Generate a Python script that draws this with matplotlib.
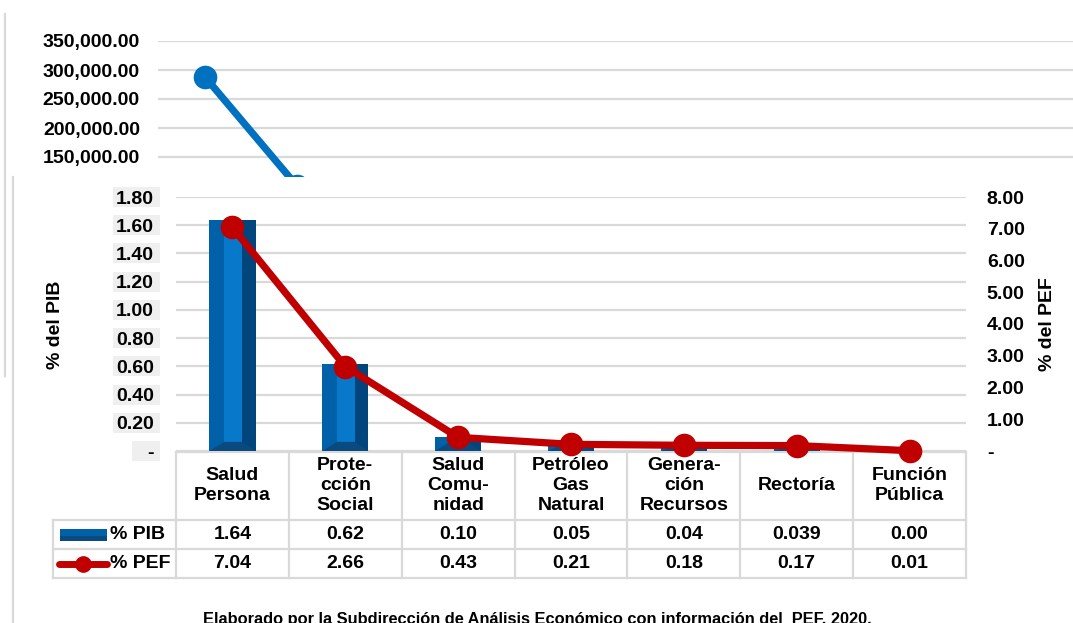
import matplotlib
matplotlib.use("Agg")
import matplotlib.pyplot as plt
import matplotlib.transforms as mtransforms
from matplotlib.patches import Rectangle, Polygon
import numpy as np

plt.rcParams["font.family"] = ["Liberation Sans", "DejaVu Sans"]
plt.rcParams["font.weight"] = "bold"

# ---- data -------------------------------------------------------------
categories = ["Salud\nPersona", "Prote-\ncción\nSocial", "Salud\nComu-\nnidad",
              "Petróleo\nGas\nNatural", "Genera-\nción\nRecursos", "Rectoría",
              "Función\nPública"]
pct_pib = [1.64, 0.62, 0.10, 0.05, 0.04, 0.039, 0.00]
pct_pef = [7.04, 2.66, 0.43, 0.21, 0.18, 0.17, 0.01]

# amounts of the underlying chart (only its upper part shows)
bg_amounts = [288000, 100000]
bg_ticks = [150000, 200000, 250000, 300000, 350000]
pib_ticks = [0.0, 0.2, 0.4, 0.6, 0.8, 1.0, 1.2, 1.4, 1.6, 1.8]
pef_ticks = [0, 1, 2, 3, 4, 5, 6, 7, 8]
series_names = ["% PIB", "% PEF"]
caption = "Elaborado por la Subdirección de Análisis Económico con información del  PEF, 2020."

# ---- styling ----------------------------------------------------------
W, H = 1073, 623
BLUE = "#0070C0"
RED = "#C00000"
GRID = "#D9D9D9"
FS = 14


def px_rect(left, top, right, bottom):
    return [left / W, 1 - bottom / H, (right - left) / W, (bottom - top) / H]


def fmt_val(v):
    return f"{v:.3f}" if round(v, 2) != v else f"{v:.2f}"


fig = plt.figure(figsize=(W / 100, H / 100), dpi=100)

# ---- underlying chart (amounts) ---------------------------------------
ax_bg = fig.add_axes(px_rect(158, 41, W, 244), zorder=0)
ax_bg.set_ylim(0, 350000)
ax_bg.set_xlim(-0.511, 9.435)
ax_bg.set_yticks(bg_ticks)
ax_bg.set_yticklabels([f"{t:,.2f}" for t in bg_ticks], fontsize=FS, fontweight="bold")
ax_bg.set_xticks([])
ax_bg.tick_params(axis="y", length=0, pad=13)
ax_bg.grid(axis="y", color=GRID, lw=1.6)
ax_bg.set_axisbelow(True)
for s in ax_bg.spines.values():
    s.set_visible(False)
ax_bg.plot(range(len(bg_amounts)), bg_amounts, color=BLUE, lw=5.2, marker="o",
           ms=16, clip_on=False, solid_capstyle="round")

# ---- overlay layer in pixel coordinates (panel, table, titles) --------
ov = fig.add_axes([0, 0, 1, 1], zorder=1)
ov.set_xlim(0, W)
ov.set_ylim(H, 0)
ov.axis("off")
ov.patch.set_alpha(0)
ov.plot([5, 5], [14, 376], color=GRID, lw=1.6, zorder=0)
ov.add_patch(Rectangle((13, 177), W - 13, H - 177, facecolor="white",
                       edgecolor="none", zorder=1))
ov.plot([13, 13], [177, H], color=GRID, lw=1.6, zorder=2)

# ---- main chart -------------------------------------------------------
ax = fig.add_axes(px_rect(176, 197, 966, 451), zorder=2)
ax.patch.set_alpha(0)
x = np.arange(len(categories))
ax.set_xlim(-0.5, len(categories) - 0.5)
ax.set_ylim(0, 1.8)
ax.set_yticks(pib_ticks)
ax.set_yticklabels(["-" if t == 0 else f"{t:.2f}" for t in pib_ticks],
                   fontsize=FS, fontweight="bold")
ax.tick_params(axis="y", length=0, pad=16)
ax.set_xticks([])
ax.grid(axis="y", color=GRID, lw=1.6)
ax.set_axisbelow(True)
for s in ax.spines.values():
    s.set_visible(False)

# light grey boxes behind the left tick labels
box_tr = mtransforms.blended_transform_factory(ov.transData, ax.transData)
half = 10 * 1.8 / 254
for t in pib_ticks:
    left = 132 if t == 0 else 113
    ov.add_patch(Rectangle((left, t - half), 160 - left, 2 * half, facecolor="#EFEFEF",
                           edgecolor="none", transform=box_tr, zorder=2, clip_on=False))

# bevelled bars
w = 0.41
bevel = 0.065
ax.bar(x, pct_pib, w, color="#0061A8", zorder=3)
ax.bar(x + 0.01 * w, pct_pib, 0.38 * w, color="#0878CB", zorder=3)
ax.bar(x + 0.35 * w, pct_pib, 0.30 * w, color="#00467C", zorder=3)
for xi, v in zip(x, pct_pib):
    if v <= 0:
        continue
    b = min(bevel, v)
    ax.add_patch(Polygon([(xi - w / 2, 0), (xi + w / 2, 0), (xi + 0.2 * w, b),
                          (xi - 0.18 * w, b)], closed=True,
                         facecolor="#0B4A7E", edgecolor="none", zorder=3))

ax2 = ax.twinx()
ax2.set_zorder(3)
ax2.patch.set_alpha(0)
ax2.set_ylim(0, 8)
ax2.set_yticks(pef_ticks)
ax2.set_yticklabels(["-" if t == 0 else f"{t:.2f}" for t in pef_ticks],
                    fontsize=FS, fontweight="bold")
ax2.tick_params(axis="y", length=0, pad=15)
for s in ax2.spines.values():
    s.set_visible(False)
ax2.plot(x, pct_pef, color=RED, lw=5.2, marker="o", ms=16, clip_on=False, zorder=5)

# axis titles
ov.text(55, 325, "% del PIB", rotation=90, ha="center", va="center",
        fontsize=FS, fontweight="bold", zorder=3)
ov.text(1048, 324, "% del PEF", rotation=90, ha="center", va="center",
        fontsize=FS, fontweight="bold", zorder=3)

# ---- data table --------------------------------------------------------
trans = mtransforms.blended_transform_factory(ax.transData, ov.transData)
top, r1, r2, r3 = 451.5, 520, 549, 578
lw_t = 1.6
borders = np.arange(len(categories) + 1) - 0.5
for bx in borders:
    ov.plot([bx, bx], [top, r3], color=GRID, lw=lw_t, transform=trans, zorder=3)
ov.plot([borders[0], borders[-1]], [top, top], color=GRID, lw=lw_t, transform=trans, zorder=3)
for ry in (r1, r2, r3):
    ov.plot([53, 176], [ry, ry], color=GRID, lw=lw_t, zorder=3)
    ov.plot([borders[0], borders[-1]], [ry, ry], color=GRID, lw=lw_t,
            transform=trans, zorder=3)
ov.plot([53, 53], [r1, r3], color=GRID, lw=lw_t, zorder=3)

for xi, name, vp, ve in zip(x, categories, pct_pib, pct_pef):
    ov.text(xi, (top + r1) / 2, name, ha="center", va="center", fontsize=FS,
            fontweight="bold", linespacing=1.25, transform=trans, zorder=4)
    ov.text(xi, (r1 + r2) / 2, fmt_val(vp), ha="center", va="center",
            fontsize=FS, fontweight="bold", transform=trans, zorder=4)
    ov.text(xi, (r2 + r3) / 2, fmt_val(ve), ha="center", va="center",
            fontsize=FS, fontweight="bold", transform=trans, zorder=4)

# legend keys inside the table
yc1, yc2 = (r1 + r2) / 2, (r2 + r3) / 2
ov.add_patch(Rectangle((60, yc1 - 6), 47, 12, facecolor="#0061A8", edgecolor="none", zorder=4))
ov.add_patch(Rectangle((60, yc1 + 1), 47, 5, facecolor="#0B4A7E", edgecolor="none", zorder=4))
ov.plot([59, 107], [yc2, yc2], color=RED, lw=5, solid_capstyle="round", zorder=4)
ov.plot([83], [yc2], marker="o", ms=11, color=RED, zorder=4)
ov.text(110, yc1, series_names[0], ha="left", va="center", fontsize=FS,
        fontweight="bold", zorder=4)
ov.text(110, yc2, series_names[1], ha="left", va="center", fontsize=FS,
        fontweight="bold", zorder=4)

# source note
ov.text(537, 624, caption, ha="center", va="baseline", fontsize=11.8,
        fontweight="bold", zorder=4)

fig.savefig("out.png", dpi=100)
